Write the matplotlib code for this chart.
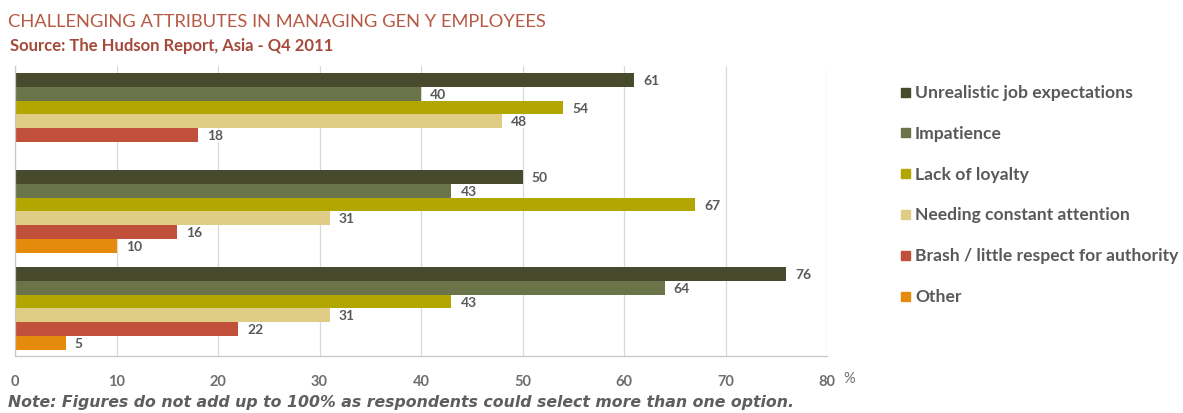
import matplotlib
matplotlib.use("Agg")
import matplotlib.pyplot as plt
import numpy as np

# ---- data ----
groups = ["Group A", "Group B", "Group C"]
series = ["Unrealistic job expectations", "Impatience", "Lack of loyalty",
          "Needing constant attention", "Brash / little respect for authority", "Other"]
unrealistic = [61, 50, 76]
impatience = [40, 43, 64]
lack_loyalty = [54, 67, 43]
needing_attention = [48, 31, 31]
brash = [18, 16, 22]
other = [None, 10, 5]
xticks = [0, 10, 20, 30, 40, 50, 60, 70, 80]

values = [unrealistic, impatience, lack_loyalty, needing_attention, brash, other]
colors = ["#474a2c", "#6b7448", "#b2a600", "#dfcc85", "#c0503a", "#e68a0e"]

plt.rcParams['font.family'] = ['Lato', 'DejaVu Sans']
fig = plt.figure(figsize=(11.83, 4.14), dpi=100)
ax = fig.add_axes([15/1183, 1-357/414, (827-15)/1183, (357-67)/414])

n = len(series)
h = 0.143
y = np.arange(len(groups))
gray = "#595959"
for i, (vals, c) in enumerate(zip(values, colors)):
    off = (i - (n-1)/2) * h
    for g, v in enumerate(vals):
        if v is None:
            continue
        ax.barh(y[g] + off, v, height=h, color=c, zorder=2)
        ax.text(v + 0.9, y[g] + off, str(v), va='center', ha='left',
                fontsize=10, fontweight='bold', color=gray, zorder=3,
                bbox=dict(boxstyle='square,pad=0.05', fc='white', ec='none'))

ax.set_xlim(0, 80)
ax.set_ylim(2.49, -0.5)
ax.set_xticks(xticks)
ax.set_xticklabels([str(t) for t in xticks])
ax.set_yticks([])
ax.tick_params(axis='x', length=0, pad=13, labelsize=10.5, labelcolor="#6e6e6e")
for lbl in ax.get_xticklabels():
    lbl.set_fontweight('bold')
ax.grid(axis='x', color='#d9d9d9', linewidth=0.9, zorder=0)
for s in ['top', 'right']:
    ax.spines[s].set_visible(False)
for s in ['left', 'bottom']:
    ax.spines[s].set_color('#c8c8c8')
    ax.spines[s].set_linewidth(0.9)

fig.text(849/1183, 1-379/414, "%", fontsize=10.5, color="#6e6e6e", va='center', ha='center')

fig.text(8/1183, 1-22/414, "CHALLENGING ATTRIBUTES IN MANAGING GEN Y EMPLOYEES",
         fontsize=13.2, color="#b65a45", va='center', ha='left')
fig.text(10/1183, 1-46/414, "Source: The Hudson Report, Asia - Q4 2011",
         fontsize=12, fontweight='bold', color="#a5493a", va='center', ha='left')
fig.text(8/1183, 1-403/414,
         "Note: Figures do not add up to 100% as respondents could select more than one option.",
         fontsize=11.3, style='italic', fontweight='bold', color="#5e5e5e",
         va='center', ha='left', family=['DejaVu Sans'])

# legend
for i, (name, c) in enumerate(zip(series, colors)):
    yy = 1 - (93 + i*40.8)/414
    fig.patches.append(plt.Rectangle((901/1183, yy - 4.5/414), 9/1183, 9/414,
                                     transform=fig.transFigure, color=c))
    fig.text(915/1183, yy, name, fontsize=12.6, fontweight='bold', color=gray,
             va='center', ha='left')

fig.savefig("out.png", dpi=100)
